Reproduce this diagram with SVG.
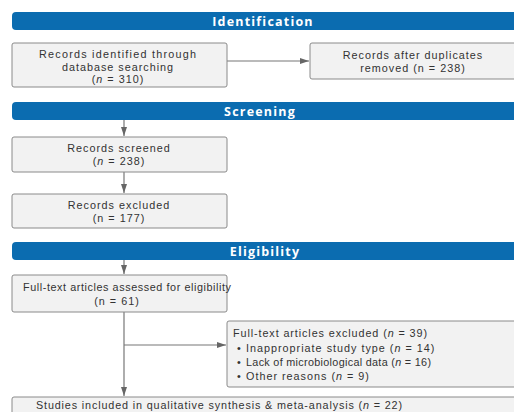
<svg xmlns="http://www.w3.org/2000/svg" width="514" height="412" viewBox="0 0 514 412">
<style>
.bar{fill:#0b6cb0}
.bt{fill:#fff;font-family:"Open Sans","DejaVu Sans",sans-serif;font-weight:bold;font-size:12.5px;text-anchor:middle;letter-spacing:1.2px}
.box{fill:#f2f2f2;stroke:#8a8a8a;stroke-width:1}
.t{fill:#333;font-family:"Liberation Sans",Arial,sans-serif;font-size:10.8px;text-anchor:middle;letter-spacing:1px}
.l{fill:#333;font-family:"Liberation Sans",Arial,sans-serif;font-size:10.8px;letter-spacing:1px}
.c{stroke:#777;stroke-width:1.2;fill:none}
</style>
<defs>
<marker id="ah" markerWidth="10" markerHeight="8" refX="9" refY="4" orient="auto" markerUnits="userSpaceOnUse">
<path d="M0,1 L9,4 L0,7 Z" fill="#666"/>
</marker>
</defs>
<rect width="514" height="412" fill="#fff"/>
<g id="bar-identification"><rect class="bar" x="12" y="12" width="520" height="18" rx="4"/><text class="bt" x="263" y="25.5">Identification</text></g>
<g id="bar-screening"><rect class="bar" x="12" y="102" width="520" height="18" rx="4"/><text class="bt" x="260" y="115.5">Screening</text></g>
<g id="bar-eligibility"><rect class="bar" x="12" y="242" width="520" height="18" rx="4"/><text class="bt" x="265" y="255.5">Eligibility</text></g>
<g id="connectors">
<line class="c" x1="227" y1="61" x2="309" y2="61" marker-end="url(#ah)"/>
<line class="c" x1="124" y1="120" x2="124" y2="136" marker-end="url(#ah)"/>
<line class="c" x1="124" y1="172" x2="124" y2="193" marker-end="url(#ah)"/>
<line class="c" x1="124" y1="260" x2="124" y2="274" marker-end="url(#ah)"/>
<line class="c" x1="124" y1="312" x2="124" y2="396" marker-end="url(#ah)"/>
<line class="c" x1="124" y1="345" x2="226" y2="345" marker-end="url(#ah)"/>
</g>
<g id="n1"><rect class="box" x="12" y="43" width="215" height="44" rx="2"/>
<text class="t" x="118" y="58.3" textLength="158" lengthAdjust="spacing">Records identified through</text>
<text class="t" x="118" y="70.6">database searching</text>
<text class="t" x="118" y="82.9">(<tspan font-style="italic">n</tspan> = 310)</text></g>
<g id="n2"><rect class="box" x="310" y="43" width="220" height="36" rx="2"/>
<text class="t" x="413" y="59">Records after duplicates</text>
<text class="t" x="413" y="72">removed (n = 238)</text></g>
<g id="n3"><rect class="box" x="12" y="137" width="215" height="35" rx="2"/>
<text class="t" x="119" y="152">Records screened</text>
<text class="t" x="119" y="164.5">(<tspan font-style="italic">n</tspan> = 238)</text></g>
<g id="n4"><rect class="box" x="12" y="194" width="215" height="34" rx="2"/>
<text class="t" x="119" y="209">Records excluded</text>
<text class="t" x="119" y="221.5">(n = 177)</text></g>
<g id="n5"><rect class="box" x="12" y="275" width="215" height="37" rx="2"/>
<text class="l" x="23" y="291" textLength="209" lengthAdjust="spacing">Full-text articles assessed for eligibility</text>
<text class="t" x="117" y="305">(n = 61)</text></g>
<g id="n6"><rect class="box" x="227" y="321" width="300" height="66" rx="2"/>
<text class="l" x="233" y="337" textLength="195" lengthAdjust="spacing">Full-text articles excluded (<tspan font-style="italic">n</tspan> = 39)</text>
<text class="l" x="237" y="352">•</text><text class="l" x="246" y="352">Inappropriate study type (<tspan font-style="italic">n</tspan> = 14)</text>
<text class="l" x="237" y="366">•</text><text class="l" x="246" y="366" textLength="186" lengthAdjust="spacing">Lack of microbiological data (<tspan font-style="italic">n</tspan> = 16)</text>
<text class="l" x="237" y="380">•</text><text class="l" x="246" y="380">Other reasons (<tspan font-style="italic">n</tspan> = 9)</text></g>
<g id="n7"><rect class="box" x="12" y="397" width="520" height="30" rx="2"/>
<text class="l" x="36" y="409" textLength="367" lengthAdjust="spacing">Studies included in qualitative synthesis &amp; meta-analysis (<tspan font-style="italic">n</tspan> = 22)</text></g>
</svg>
